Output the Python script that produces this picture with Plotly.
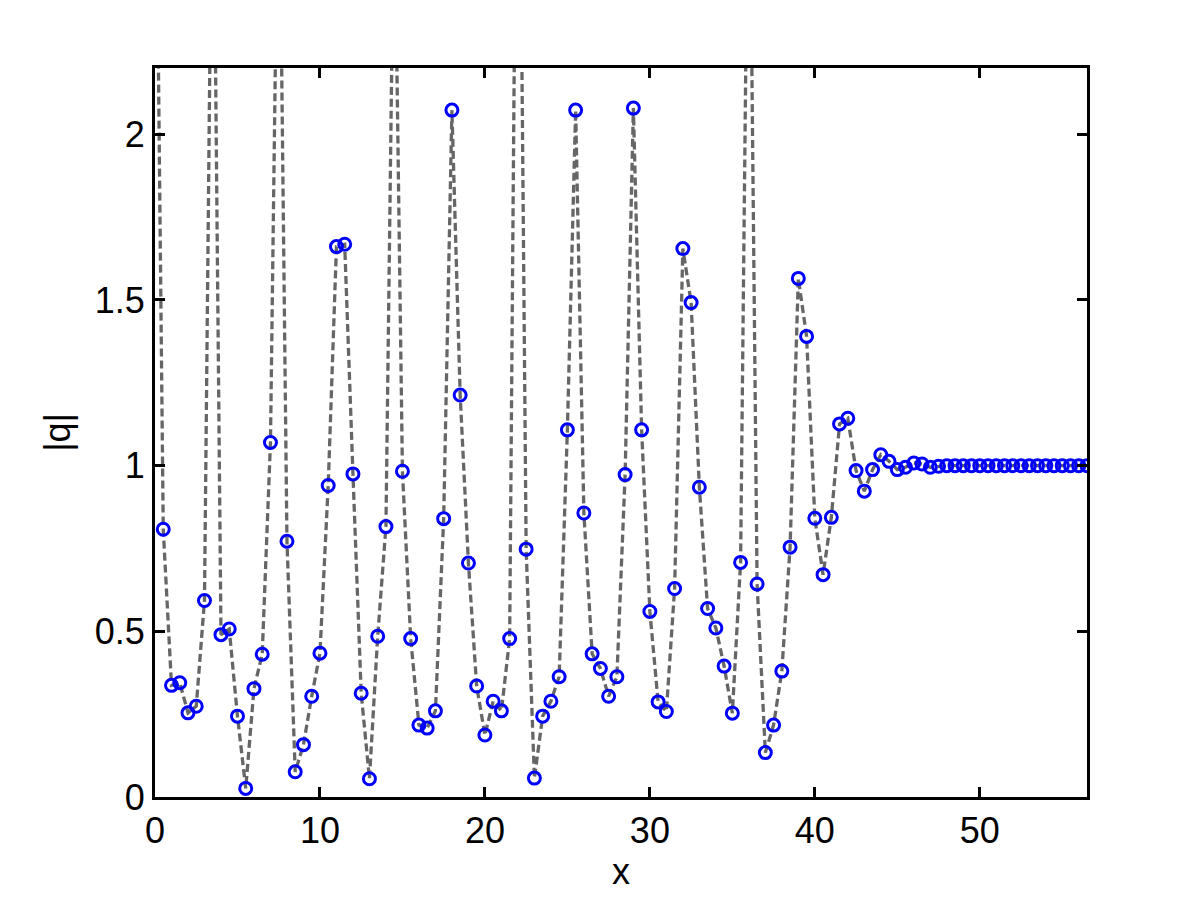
import plotly.graph_objects as go

# |q| sampled on a uniform grid, dx = 0.5
dx = 0.5
q_abs = [
    3.2, 0.808, 0.337, 0.345, 0.254, 0.274, 0.593, 3.1, 0.490, 0.507,
    0.244, 0.026, 0.327, 0.431, 1.070, 3.0, 0.772, 0.076, 0.158, 0.304,
    0.434, 0.940, 1.661, 1.668, 0.975, 0.313, 0.055, 0.485, 0.816, 2.8,
    0.983, 0.478, 0.217, 0.208, 0.260, 0.840, 2.073, 1.213, 0.706, 0.335,
    0.187, 0.289, 0.260, 0.478, 3.6, 0.748, 0.057, 0.244, 0.289, 0.363,
    1.108, 2.073, 0.857, 0.432, 0.388, 0.304, 0.363, 0.973, 2.079, 1.108,
    0.560, 0.287, 0.258, 0.629, 1.655, 1.492, 0.935, 0.569, 0.510, 0.395,
    0.253, 0.708, 3.1, 0.643, 0.134, 0.217, 0.380, 0.754, 1.565, 1.390,
    0.841, 0.671, 0.844, 1.126, 1.143, 0.985, 0.923, 0.988, 1.033, 1.013,
    0.988, 0.995, 1.008, 1.005, 0.995, 0.998, 1.0, 1.0, 1.0, 1.0,
    1.0, 1.0, 1.0, 1.0, 1.0, 1.0, 1.0, 1.0, 1.0, 1.0,
    1.0, 1.0, 1.0, 1.0,
]
x = [i * dx for i in range(len(q_abs))]

x_ticks = [0, 10, 20, 30, 40, 50]
y_ticks = [0, 0.5, 1, 1.5, 2]
y_tick_text = ["0", "0.5", "1", "1.5", "2"]

font = "Liberation Sans, Arial, Helvetica, sans-serif"

fig = go.Figure()
fig.add_trace(go.Scatter(
    x=x, y=q_abs,
    mode="lines+markers",
    line=dict(color="rgb(102,102,102)", width=3.3, dash="8px,4px"),
    marker=dict(symbol="circle-open", size=12, color="blue",
                line=dict(color="blue", width=3)),
    showlegend=False,
))

axis_common = dict(
    showline=True, linecolor="black", linewidth=3, mirror="ticks",
    ticks="inside", ticklen=10, tickwidth=3, tickcolor="black",
    showgrid=False, zeroline=False,
    tickfont=dict(family=font, size=36, color="black"),
)

# page body has an 8px margin, so the figure is slightly smaller than the window
fig.update_layout(
    width=1184, height=884,
    paper_bgcolor="white", plot_bgcolor="white",
    margin=dict(l=147, r=105, t=60, b=92),
    xaxis=dict(range=[0, 56.5], tickvals=x_ticks,
               title=dict(text="x", font=dict(family=font, size=36, color="black"),
                          standoff=4),
               **axis_common),
    yaxis=dict(range=[0, 2.2], tickvals=y_ticks, ticktext=y_tick_text,
               title=dict(text="|q|", font=dict(family=font, size=36, color="black"),
                          standoff=14),
               **axis_common),
)

fig.write_html("out.html")
